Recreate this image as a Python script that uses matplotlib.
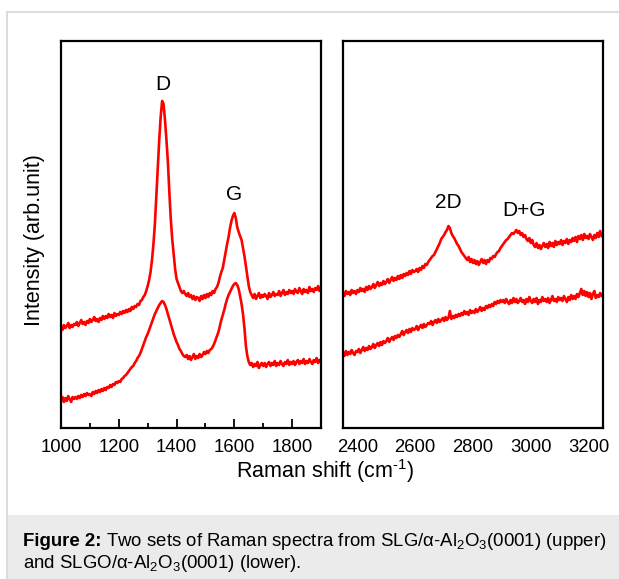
import numpy as np
import matplotlib
matplotlib.use("Agg")
import matplotlib.pyplot as plt
from matplotlib.patches import Rectangle
from matplotlib.lines import Line2D

plt.rcParams['font.family'] = ['Liberation Sans', 'DejaVu Sans']
plt.rcParams['mathtext.fontset'] = 'custom'
plt.rcParams['mathtext.rm'] = 'Liberation Sans'
plt.rcParams['mathtext.it'] = 'Liberation Sans:italic'
plt.rcParams['mathtext.bf'] = 'Liberation Sans:bold'
plt.rcParams['mathtext.default'] = 'regular'

# ---------------- data (arb. units) ----------------
x_low = list(range(1000, 1901, 5))
slg_low = [105, 102, 107, 104, 106, 109, 104, 107, 105, 108,
           107, 110, 106, 109, 112, 108, 110, 107, 111, 109,
           113, 110, 112, 115, 111, 113, 110, 114, 112, 116,
           113, 116, 114, 118, 115, 117, 114, 119, 116, 118,
           117, 120, 118, 121, 119, 122, 120, 123, 121, 125,
           123, 126, 125, 128, 127, 131, 132, 135, 137, 141,
           146, 152, 160, 172, 188, 208, 236, 262, 292, 315,
           331, 328, 312, 292, 270, 240, 213, 193, 178, 163,
           153, 149, 145, 141, 139, 141, 138, 136, 139, 135,
           137, 133, 136, 132, 135, 134, 131, 136, 133, 137,
           134, 138, 135, 139, 137, 141, 139, 143, 145, 149,
           155, 160, 164, 172, 180, 188, 195, 204, 211, 216,
           219, 214, 205, 200, 196, 192, 184, 176, 166, 156,
           146, 140, 137, 134, 138, 133, 136, 139, 134, 137,
           135, 138, 136, 133, 139, 135, 137, 140, 136, 138,
           137, 141, 136, 139, 142, 137, 140, 138, 142, 139,
           141, 138, 143, 140, 139, 144, 141, 138, 143, 140,
           142, 139, 145, 141, 143, 140, 144, 142, 146, 141,
           144]
slgo_low = [32, 35, 30, 34, 31, 36, 33, 30, 35, 33,
            35, 33, 36, 34, 37, 35, 38, 36, 39, 37,
            38, 36, 40, 38, 41, 39, 42, 40, 43, 41,
            44, 42, 45, 44, 47, 45, 48, 47, 50, 49,
            51, 50, 53, 54, 56, 57, 59, 61, 63, 65,
            66, 69, 71, 74, 76, 79, 83, 87, 91, 95,
            98, 102, 106, 110, 114, 118, 121, 124, 127, 129,
            131, 130, 127, 123, 118, 113, 108, 103, 98, 94,
            90, 87, 83, 81, 78, 76, 75, 77, 73, 76,
            72, 75, 78, 73, 76, 74, 78, 75, 77, 80,
            78, 81, 79, 82, 83, 85, 88, 92, 96, 100,
            106, 112, 117, 122, 128, 133, 137, 140, 143, 146,
            148, 149, 147, 143, 136, 128, 118, 104, 86, 76,
            70, 67, 69, 65, 68, 66, 70, 64, 67, 69,
            66, 69, 65, 68, 70, 66, 69, 67, 71, 66,
            69, 67, 71, 68, 66, 70, 68, 72, 67, 70,
            68, 71, 67, 70, 72, 68, 71, 69, 73, 68,
            71, 69, 73, 70, 68, 72, 70, 74, 69, 72,
            70]

x_high = list(range(2350, 3251, 5))
slg_high = [139, 136, 141, 138, 140, 137, 142, 139, 141, 138,
            142, 140, 144, 141, 143, 140, 145, 142, 146, 143,
            145, 148, 144, 147, 150, 146, 149, 147, 151, 148,
            150, 153, 149, 152, 155, 151, 154, 152, 156, 153,
            157, 154, 158, 156, 159, 157, 161, 158, 162, 160,
            161, 163, 160, 164, 162, 166, 164, 168, 167, 170,
            172, 174, 176, 177, 180, 183, 186, 189, 193, 195,
            197, 200, 202, 206, 204, 199, 196, 194, 191, 188,
            186, 183, 180, 178, 176, 174, 172, 175, 170, 173,
            169, 172, 168, 171, 167, 170, 173, 169, 172, 168,
            172, 170, 174, 173, 176, 175, 178, 180, 181, 184,
            186, 188, 190, 192, 193, 195, 197, 199, 198, 200,
            202, 199, 201, 197, 199, 195, 197, 193, 191, 194,
            189, 192, 187, 185, 189, 184, 187, 183, 186, 189,
            185, 188, 184, 190, 186, 189, 185, 191, 187, 190,
            188, 192, 187, 191, 189, 193, 188, 192, 190, 194,
            191, 195, 190, 196, 193, 197, 192, 198, 194, 196,
            193, 198, 195, 192, 197, 194, 199, 195, 201, 196,
            195]
slgo_high = [79, 76, 81, 77, 80, 78, 82, 79, 77, 81,
             80, 83, 79, 82, 85, 81, 84, 82, 86, 83,
             85, 88, 84, 87, 89, 86, 90, 87, 91, 89,
             91, 94, 90, 93, 95, 92, 96, 94, 97, 95,
             98, 101, 97, 100, 102, 99, 103, 100, 104, 102,
             103, 106, 102, 105, 107, 104, 108, 105, 107, 109,
             108, 111, 107, 110, 112, 109, 113, 110, 112, 114,
             111, 115, 112, 114, 121, 113, 116, 114, 117, 115,
             118, 116, 119, 117, 121, 118, 120, 117, 122, 119,
             121, 119, 123, 120, 122, 125, 121, 124, 122, 126,
             124, 127, 125, 128, 126, 130, 128, 131, 129, 132,
             130, 132, 129, 133, 130, 128, 132, 129, 134, 130,
             133, 129, 131, 134, 130, 132, 128, 133, 130, 135,
             131, 129, 133, 130, 134, 128, 132, 130, 135, 131,
             133, 130, 134, 129, 132, 136, 131, 133, 130, 135,
             132, 134, 131, 136, 133, 130, 135, 132, 137, 133,
             136, 133, 138, 135, 139, 143, 137, 141, 136, 140,
             135, 139, 133, 138, 141, 134, 137, 135, 139, 136,
             137]

low_ticks = [1000, 1200, 1400, 1600, 1800]
high_ticks = [2400, 2600, 2800, 3000, 3200]
peak_labels = ["D", "G", "2D", "D+G"]
peak_pos_low = [(1353, 347), (1600, 237)]
peak_pos_high = [(2715, 229), (2976, 221)]

# ---------------- figure ----------------
W, H = 619, 579
fig = plt.figure(figsize=(W / 100, H / 100), dpi=100)
fig.patch.set_facecolor('white')

def fx(px):
    return px / W

def fy(py):
    return 1 - py / H

# caption box and outer border
fig.patches.append(Rectangle((fx(7), 0), 1 - fx(7), fy(515), transform=fig.transFigure,
                             facecolor='#ebebeb', edgecolor='none', zorder=0))
fig.lines.append(Line2D([fx(6.5), fx(6.5)], [0, fy(12)], transform=fig.transFigure,
                        color='#dddddd', lw=1.5))
fig.lines.append(Line2D([fx(6.5), 1], [fy(12), fy(12)], transform=fig.transFigure,
                        color='#dddddd', lw=1.5))

top, bottom = 41, 428
ax1 = fig.add_axes([fx(61), fy(bottom), fx(321) - fx(61), fy(top) - fy(bottom)])
ax2 = fig.add_axes([fx(343), fy(bottom), fx(603) - fx(343), fy(top) - fy(bottom)])

red = '#ff0000'
for ax, xs, ys in ((ax1, x_low, slg_low), (ax1, x_low, slgo_low),
                   (ax2, x_high, slg_high), (ax2, x_high, slgo_high)):
    ax.plot(xs, ys, color=red, lw=1.9)

ax1.set_xlim(1000, 1900)
ax2.set_xlim(2350, 3250)
for ax in (ax1, ax2):
    ax.set_ylim(4, 391)
    ax.set_yticks([])
    for s in ax.spines.values():
        s.set_linewidth(1.6)
        s.set_color('black')

ax1.set_xticks(low_ticks)
ax1.set_xticks(list(range(1100, 1900, 200)), minor=True)
ax1.tick_params(axis='x', which='major', direction='in', length=6.5, width=1.3,
                labelsize=13.3, pad=8)
ax1.tick_params(axis='x', which='minor', direction='in', length=3.5, width=1.3)

ax2.set_xticks(high_ticks)
ax2.tick_params(axis='x', which='major', direction='in', length=0, width=0,
                labelsize=13.3, pad=8)

for lab, (x, y) in zip(peak_labels[:2], peak_pos_low):
    ax1.text(x, y, lab, ha='center', va='center', fontsize=15)
for lab, (x, y) in zip(peak_labels[2:], peak_pos_high):
    ax2.text(x, y, lab, ha='center', va='center', fontsize=15)

fig.text(fx(35), fy(240), 'Intensity (arb.unit)', rotation=90, ha='center', va='center',
         fontsize=15.5)
fig.text(fx(325), fy(471), 'Raman shift (cm$^{\u2010 1}$)', ha='center', va='center',
         fontsize=15.5)

cap_size = 13.4
t_bold = fig.text(fx(23), fy(541), 'Figure 2:', ha='left', va='center',
                  fontsize=cap_size, fontweight='bold')
renderer = fig.canvas.get_renderer()
bb = t_bold.get_window_extent(renderer)
fig.text(bb.x1 / W + fx(4), fy(541),
         'Two sets of Raman spectra from SLG/α-Al$_2$O$_3$(0001) (upper)',
         ha='left', va='center', fontsize=cap_size)
fig.text(fx(23), fy(563), 'and SLGO/α-Al$_2$O$_3$(0001) (lower).',
         ha='left', va='center', fontsize=cap_size)

fig.savefig('out.png', dpi=100)
